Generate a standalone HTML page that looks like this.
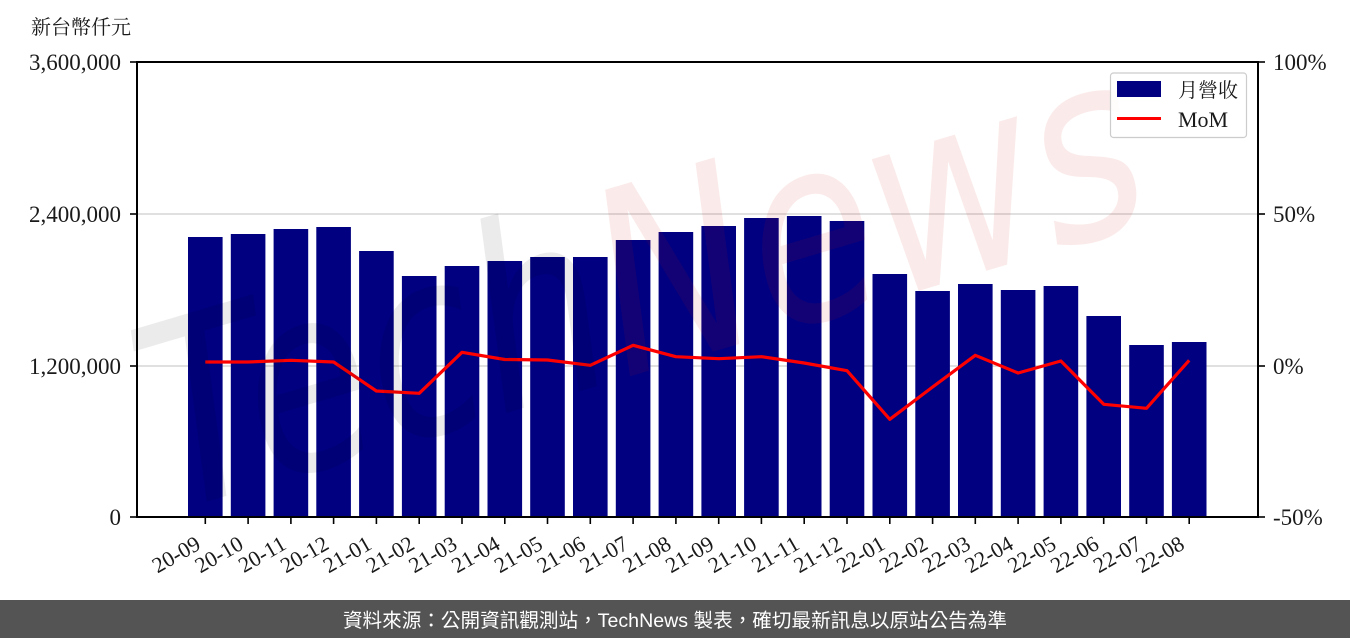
<!DOCTYPE html>
<html>
<head>
<meta charset="utf-8">
<style>
  html, body { margin: 0; padding: 0; background: #ffffff; }
  body { width: 1350px; height: 638px; overflow: hidden; }
  svg { display: block; }
  .tk { font-family: "Liberation Serif", "DejaVu Serif", serif; font-size: 23px; fill: #1a1a1a; }
  .xt { font-family: "Liberation Serif", "DejaVu Serif", serif; font-size: 22px; fill: #1a1a1a; }
  .cjk { font-family: "Liberation Serif", "Noto Serif CJK SC", "Noto Sans CJK TC", serif; font-size: 20px; fill: #1a1a1a; }
  .foot { font-family: "Liberation Sans", "Noto Sans CJK TC", sans-serif; font-size: 19.6px; fill: #ffffff; }
</style>
</head>
<body>
<svg width="1350" height="638" viewBox="0 0 1350 638" xmlns="http://www.w3.org/2000/svg">
  <rect x="0" y="0" width="1350" height="638" fill="#ffffff"/>

  <!-- unit label -->
  <text class="cjk" x="31" y="34">新台幣仟元</text>

  <!-- gridlines -->
  <line x1="137" y1="214" x2="1258" y2="214" stroke="#d6d6d6" stroke-width="1.6"/>
  <line x1="137" y1="366" x2="1258" y2="366" stroke="#d6d6d6" stroke-width="1.6"/>

  <!-- bars -->
  <g fill="#000080">
    <rect x="188.0" y="237" width="34.6" height="280"/>
    <rect x="230.8" y="234" width="34.6" height="283"/>
    <rect x="273.6" y="229" width="34.6" height="288"/>
    <rect x="316.3" y="227" width="34.6" height="290"/>
    <rect x="359.1" y="251" width="34.6" height="266"/>
    <rect x="401.9" y="276" width="34.6" height="241"/>
    <rect x="444.7" y="266" width="34.6" height="251"/>
    <rect x="487.5" y="261" width="34.6" height="256"/>
    <rect x="530.2" y="257" width="34.6" height="260"/>
    <rect x="573.0" y="257" width="34.6" height="260"/>
    <rect x="615.8" y="240" width="34.6" height="277"/>
    <rect x="658.6" y="232" width="34.6" height="285"/>
    <rect x="701.4" y="226" width="34.6" height="291"/>
    <rect x="744.1" y="218" width="34.6" height="299"/>
    <rect x="786.9" y="216" width="34.6" height="301"/>
    <rect x="829.7" y="221" width="34.6" height="296"/>
    <rect x="872.5" y="274" width="34.6" height="243"/>
    <rect x="915.3" y="291" width="34.6" height="226"/>
    <rect x="958.0" y="284" width="34.6" height="233"/>
    <rect x="1000.8" y="290" width="34.6" height="227"/>
    <rect x="1043.6" y="286" width="34.6" height="231"/>
    <rect x="1086.4" y="316" width="34.6" height="201"/>
    <rect x="1129.2" y="345" width="34.6" height="172"/>
    <rect x="1171.9" y="342" width="34.6" height="175"/>
  </g>

  <!-- MoM line -->
  <polyline fill="none" stroke="#ff0000" stroke-width="3.2" stroke-linejoin="round" stroke-linecap="butt"
    points="205.3,362 248.1,362 290.9,360.3 333.6,362 376.4,391 419.2,393.3 462.0,352.3 504.8,359.5 547.5,360 590.3,365.3 633.1,345.3 675.9,356.7 718.7,358.7 761.4,356.7 804.2,363 847.0,370.7 889.8,419.3 932.6,387 975.3,355.3 1018.1,373 1060.9,361 1103.7,404.3 1146.5,408.3 1189.2,360.3"/>

  <!-- watermark -->
  <text x="0" y="0" transform="translate(172,512) rotate(-16.5)" font-family="DejaVu Sans, Liberation Sans, sans-serif" font-style="italic" font-size="255" textLength="1030" lengthAdjust="spacingAndGlyphs"><tspan fill="#000000" fill-opacity="0.08">Tech</tspan><tspan fill="#d01818" fill-opacity="0.09">News</tspan></text>

  <!-- spines -->
  <g stroke="#000000" stroke-width="2" fill="none">
    <line x1="137" y1="62" x2="1258" y2="62"/>
    <line x1="137" y1="517" x2="1258" y2="517"/>
    <line x1="137" y1="61" x2="137" y2="518"/>
    <line x1="1258" y1="61" x2="1258" y2="518"/>
  </g>

  <!-- side ticks -->
  <g stroke="#000000" stroke-width="1.6">
    <line x1="130" y1="62" x2="137" y2="62"/>
    <line x1="130" y1="214" x2="137" y2="214"/>
    <line x1="130" y1="366" x2="137" y2="366"/>
    <line x1="130" y1="517" x2="137" y2="517"/>
    <line x1="1258" y1="62" x2="1265" y2="62"/>
    <line x1="1258" y1="214" x2="1265" y2="214"/>
    <line x1="1258" y1="366" x2="1265" y2="366"/>
    <line x1="1258" y1="517" x2="1265" y2="517"/>
  </g>
  <!-- bottom ticks -->
  <g stroke="#000000" stroke-width="1.6">
    <line x1="205.3" y1="517" x2="205.3" y2="524"/>
    <line x1="248.1" y1="517" x2="248.1" y2="524"/>
    <line x1="290.9" y1="517" x2="290.9" y2="524"/>
    <line x1="333.6" y1="517" x2="333.6" y2="524"/>
    <line x1="376.4" y1="517" x2="376.4" y2="524"/>
    <line x1="419.2" y1="517" x2="419.2" y2="524"/>
    <line x1="462.0" y1="517" x2="462.0" y2="524"/>
    <line x1="504.8" y1="517" x2="504.8" y2="524"/>
    <line x1="547.5" y1="517" x2="547.5" y2="524"/>
    <line x1="590.3" y1="517" x2="590.3" y2="524"/>
    <line x1="633.1" y1="517" x2="633.1" y2="524"/>
    <line x1="675.9" y1="517" x2="675.9" y2="524"/>
    <line x1="718.7" y1="517" x2="718.7" y2="524"/>
    <line x1="761.4" y1="517" x2="761.4" y2="524"/>
    <line x1="804.2" y1="517" x2="804.2" y2="524"/>
    <line x1="847.0" y1="517" x2="847.0" y2="524"/>
    <line x1="889.8" y1="517" x2="889.8" y2="524"/>
    <line x1="932.6" y1="517" x2="932.6" y2="524"/>
    <line x1="975.3" y1="517" x2="975.3" y2="524"/>
    <line x1="1018.1" y1="517" x2="1018.1" y2="524"/>
    <line x1="1060.9" y1="517" x2="1060.9" y2="524"/>
    <line x1="1103.7" y1="517" x2="1103.7" y2="524"/>
    <line x1="1146.5" y1="517" x2="1146.5" y2="524"/>
    <line x1="1189.2" y1="517" x2="1189.2" y2="524"/>
  </g>

  <!-- left tick labels -->
  <g class="tk" text-anchor="end">
    <text x="121" y="70">3,600,000</text>
    <text x="121" y="222">2,400,000</text>
    <text x="121" y="374">1,200,000</text>
    <text x="121" y="525">0</text>
  </g>
  <!-- right tick labels -->
  <g class="tk" text-anchor="start">
    <text x="1273" y="70">100%</text>
    <text x="1273" y="222">50%</text>
    <text x="1273" y="374">0%</text>
    <text x="1273" y="525">-50%</text>
  </g>

  <!-- x tick labels -->
  <g class="xt" text-anchor="end">
    <text transform="translate(202,548) rotate(-30)">20-09</text>
    <text transform="translate(244.8,548) rotate(-30)">20-10</text>
    <text transform="translate(287.6,548) rotate(-30)">20-11</text>
    <text transform="translate(330.3,548) rotate(-30)">20-12</text>
    <text transform="translate(373.1,548) rotate(-30)">21-01</text>
    <text transform="translate(415.9,548) rotate(-30)">21-02</text>
    <text transform="translate(458.7,548) rotate(-30)">21-03</text>
    <text transform="translate(501.5,548) rotate(-30)">21-04</text>
    <text transform="translate(544.2,548) rotate(-30)">21-05</text>
    <text transform="translate(587.0,548) rotate(-30)">21-06</text>
    <text transform="translate(629.8,548) rotate(-30)">21-07</text>
    <text transform="translate(672.6,548) rotate(-30)">21-08</text>
    <text transform="translate(715.4,548) rotate(-30)">21-09</text>
    <text transform="translate(758.1,548) rotate(-30)">21-10</text>
    <text transform="translate(800.9,548) rotate(-30)">21-11</text>
    <text transform="translate(843.7,548) rotate(-30)">21-12</text>
    <text transform="translate(886.5,548) rotate(-30)">22-01</text>
    <text transform="translate(929.3,548) rotate(-30)">22-02</text>
    <text transform="translate(972.0,548) rotate(-30)">22-03</text>
    <text transform="translate(1014.8,548) rotate(-30)">22-04</text>
    <text transform="translate(1057.6,548) rotate(-30)">22-05</text>
    <text transform="translate(1100.4,548) rotate(-30)">22-06</text>
    <text transform="translate(1143.2,548) rotate(-30)">22-07</text>
    <text transform="translate(1185.9,548) rotate(-30)">22-08</text>
  </g>

  <!-- legend -->
  <rect x="1110.5" y="73" width="136" height="64.5" rx="3" ry="3" fill="#ffffff" fill-opacity="0.85" stroke="#cccccc" stroke-width="1.2"/>
  <rect x="1117" y="81" width="44" height="16" fill="#000080"/>
  <line x1="1117" y1="118.5" x2="1161" y2="118.5" stroke="#ff0000" stroke-width="3"/>
  <text class="cjk" x="1178" y="97">月營收</text>
  <text class="xt" x="1178" y="127">MoM</text>

  <!-- footer -->
  <rect x="0" y="600" width="1350" height="38" fill="#545454"/>
  <text class="foot" x="675" y="627" text-anchor="middle">資料來源：公開資訊觀測站，TechNews 製表，確切最新訊息以原站公告為準</text>
</svg>
</body>
</html>
